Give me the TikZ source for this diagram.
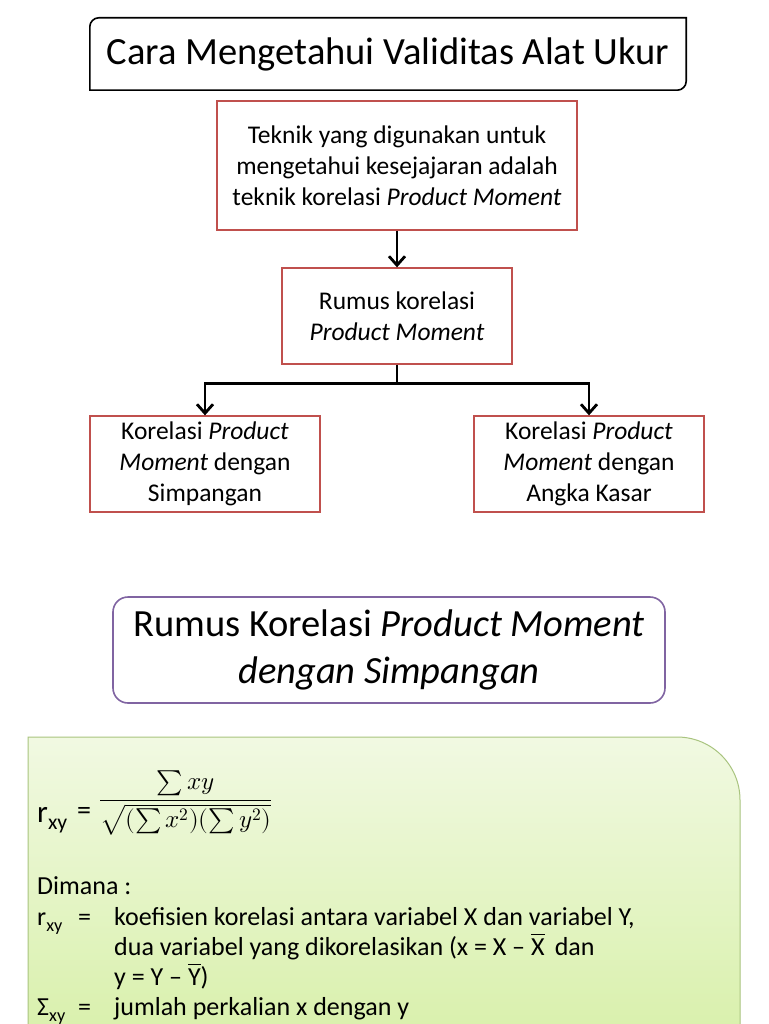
\documentclass[tikz,border=0pt]{standalone}
\usepackage{fontspec}
\usepackage{unicode-math}
\setmainfont{Carlito}
\setmathfont{Latin Modern Math}
\usetikzlibrary{arrows.meta,calc}
\definecolor{boxred}{HTML}{C0504D}
\definecolor{boxpurple}{HTML}{8064A2}
\definecolor{greentop}{HTML}{F1F9E2}
\definecolor{greenbot}{HTML}{D8F0AA}
\definecolor{greenline}{HTML}{A9C47F}
\begin{document}
\begin{tikzpicture}[x=1pt,y=-1pt,
  redbox/.style={draw=boxred,line width=1.3pt,fill=white,inner sep=0pt,align=center,
    font=\fontsize{25.5}{31}\selectfont},
  arr/.style={line width=2.8pt,-{Straight Barb[length=9pt,width=16pt]}},
  deftext/.style={anchor=base west,inner sep=0pt,font=\fontsize{26}{30}\selectfont},
]
\useasboundingbox (0,0) rectangle (768,1024);
\fill[white] (0,0) rectangle (768,1024);

% title
\node[inner sep=0pt,minimum width=596pt,minimum height=72pt,font=\fontsize{38.5}{44}\selectfont]
  (title) at (388,54) {Cara Mengetahui Validitas Alat Ukur};
\draw[line width=1.6pt] (title.south west) -- ([yshift=-9pt]title.north west)
  arc[start angle=180,end angle=90,radius=9pt] -- (title.north east)
  -- ([yshift=9pt]title.south east) arc[start angle=0,end angle=-90,radius=9pt] -- cycle;

% boxes
\node[redbox,minimum width=360pt,minimum height=129pt] (tek) at (397,165.5)
  {Teknik yang digunakan untuk\\mengetahui kesejajaran adalah\\teknik korelasi \textit{Product Moment}};
\node[redbox,minimum width=230pt,minimum height=96pt] (rum) at (397,316)
  {Rumus korelasi\\\textit{Product Moment}};
\node[redbox,minimum width=230pt,minimum height=96pt] (simp) at (205,464)
  {Korelasi \textit{Product}\\\textit{Moment} dengan\\Simpangan};
\node[redbox,minimum width=230pt,minimum height=96pt] (kas) at (589,464)
  {Korelasi \textit{Product}\\\textit{Moment} dengan\\Angka Kasar};

\draw[arr] (tek.south) -- (rum.north);
\coordinate (j) at ($(rum.south)+(0,19)$);
\draw[line width=2.8pt] (rum.south) -- (j);
\draw[arr] (j) -| (simp.north);
\draw[arr] (j) -| (kas.north);

% purple box
\node[draw=boxpurple,line width=1.6pt,rounded corners=15pt,minimum width=552pt,minimum height=106pt,
  inner sep=0pt,align=center,font=\fontsize{38.5}{47}\selectfont] (pur) at (389,650)
  {Rumus Korelasi \textit{Product Moment}\\\textit{dengan Simpangan}};

% green box
\path[draw=greenline,line width=1pt,top color=greentop,bottom color=greenbot]
  (28,737) -- (677,737) arc[start angle=90,end angle=0,radius=63pt] -- (740,1045) -- (28,1045) -- cycle;

\node[inner sep=0pt,anchor=base west,font=\fontsize{31}{34}\selectfont] (rxy) at (37,822)
  {r\textsubscript{xy}};
\node[inner sep=0pt,anchor=base west,font=\fontsize{28}{34}\selectfont] (rxyeq) at (77,819) {=};
\node[inner sep=0pt,anchor=west,font=\fontsize{25}{28}\selectfont] (frac) at (99,803)
  {$\displaystyle\frac{{\textstyle\sum}\, xy}{\sqrt{({\textstyle\sum}\, x^{2})({\textstyle\sum}\, y^{2})}}$};

\node[deftext] (dim) at (37,894) {Dimana :};
\node[deftext] (l1a) at (37,925) {r\textsubscript{xy}};
\node[deftext] (l1b) at (78,925) {=};
\node[deftext] (l1c) at (114,925) {koefisien korelasi antara variabel X dan variabel Y,};
\node[deftext] (l2c) at (114,955) {dua variabel yang dikorelasikan (x = X – $\overline{\mbox{X}}$\, dan};
\node[deftext] (l3c) at (114,985) {y = Y – $\overline{\mbox{Y}}$)};
\node[deftext] (l4a) at (37,1015) {Σ\textsubscript{xy}};
\node[deftext] (l4b) at (78,1015) {=};
\node[deftext] (l4c) at (114,1015) {jumlah perkalian x dengan y};
\end{tikzpicture}
\end{document}
